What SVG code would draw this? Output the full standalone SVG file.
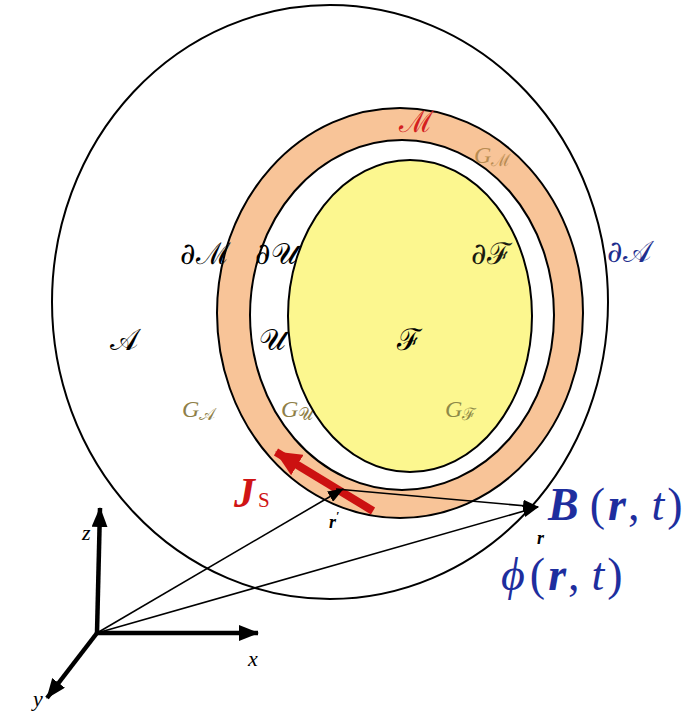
<svg xmlns="http://www.w3.org/2000/svg" width="687" height="717" viewBox="0 0 687 717">
<style>
.bd{stroke:#000;stroke-width:2}
.m{font-family:"DejaVu Serif","Liberation Serif",serif;font-style:normal}
.gi{font-family:"Liberation Serif","DejaVu Serif",serif;font-style:italic}
.s{font-family:"Liberation Serif","DejaVu Serif",serif}
.thin{stroke:#000;stroke-width:1.6;fill:none}
.axis{stroke:#000;stroke-width:4.5;fill:none}
.g{fill:#8f7f48}
</style>
<defs>
<marker id="ah" markerUnits="userSpaceOnUse" markerWidth="16" markerHeight="12" refX="15" refY="6" orient="auto"><path d="M0,0 L16,6 L0,12 Z" fill="#000"/></marker>
<marker id="ax" markerUnits="userSpaceOnUse" markerWidth="20" markerHeight="16" refX="19" refY="8" orient="auto"><path d="M0,0 L20,8 L0,16 Z" fill="#000"/></marker>
<marker id="ar" markerUnits="userSpaceOnUse" markerWidth="26" markerHeight="24" refX="25" refY="12" orient="auto"><path d="M0,0 L26,12 L0,24 Z" fill="#cc1111"/></marker>
</defs>
<rect width="687" height="717" fill="#fff"/>
<g id="region-A">
<ellipse cx="330" cy="302" rx="278" ry="297" fill="#fff" class="bd"/>
<text class="m" x="110" y="350" font-size="30">𝒜</text>
<text class="m" x="607" y="262" font-size="30" fill="#1e2e8e">∂𝒜</text>
<text class="g" x="182" y="417"><tspan class="gi" font-size="24">G</tspan><tspan class="m" font-size="17" dy="3">𝒜</tspan></text>
</g>
<g id="region-M">
<ellipse cx="400" cy="313" rx="183" ry="205" fill="#f8c498" class="bd"/>
<text class="m" x="399" y="132" font-size="30" fill="#d42020">ℳ</text>
<text x="474" y="163" fill="#b98c52"><tspan class="gi" font-size="24">G</tspan><tspan class="m" font-size="17" dy="3">ℳ</tspan></text>
<text class="m" x="180" y="264" font-size="30">∂ℳ</text>
</g>
<g id="region-U">
<ellipse cx="402" cy="315" rx="152" ry="175" fill="#fff" class="bd"/>
<text class="m" x="255" y="264" font-size="30">∂𝒰</text>
<text class="m" x="259" y="350" font-size="30">𝒰</text>
<text class="g" x="281" y="417"><tspan class="gi" font-size="24">G</tspan><tspan class="m" font-size="17" dy="3">𝒰</tspan></text>
</g>
<g id="region-F">
<ellipse cx="410" cy="316" rx="122" ry="156" fill="#fcf78f" class="bd"/>
<text class="m" x="471" y="264" font-size="30" fill="#1a1a10">∂ℱ</text>
<text class="m" x="397" y="350" font-size="30">ℱ</text>
<text x="445" y="417" fill="#8e8a48"><tspan class="gi" font-size="24">G</tspan><tspan class="m" font-size="17" dy="3">ℱ</tspan></text>
</g>
<g id="connectors">
<line x1="373" y1="511" x2="276" y2="452" stroke="#cc1111" stroke-width="8" marker-end="url(#ar)"/>
<line class="thin" x1="97" y1="633" x2="343" y2="489" marker-end="url(#ah)"/>
<line class="thin" x1="97" y1="633" x2="538" y2="507" marker-end="url(#ah)"/>
<line class="thin" x1="336" y1="489" x2="538" y2="507" marker-end="url(#ah)"/>
<line class="axis" x1="97" y1="633" x2="100" y2="508" marker-end="url(#ax)"/>
<line class="axis" x1="97" y1="633" x2="258" y2="633" marker-end="url(#ax)"/>
<line class="axis" x1="97" y1="633" x2="47" y2="698" marker-end="url(#ax)"/>
</g>
<g id="label-Js">
<text class="s" x="234" y="507" font-size="42" font-weight="bold" font-style="italic" fill="#d01515">J<tspan font-size="21" font-weight="normal" font-style="normal" dx="3">S</tspan></text>
</g>
<g id="label-r">
<text class="s" x="329" y="528" font-size="18" font-weight="bold" font-style="italic">r<tspan font-size="12" dy="-8">′</tspan></text>
<text class="s" x="537" y="544" font-size="18" font-weight="bold" font-style="italic">r</text>
</g>
<g id="label-B">
<text class="s" x="548" y="520" font-size="46" fill="#1e2e9e"><tspan font-weight="bold" font-style="italic">B</tspan><tspan dx="11">(</tspan><tspan dx="3" font-weight="bold" font-style="italic">r</tspan><tspan dx="2">,</tspan><tspan dx="12" font-style="italic">t</tspan><tspan dx="3">)</tspan></text>
</g>
<g id="label-phi">
<text class="s" x="501" y="590" font-size="46" fill="#1e2e9e"><tspan font-style="italic">ϕ</tspan><tspan dx="5">(</tspan><tspan dx="3" font-weight="bold" font-style="italic">r</tspan><tspan dx="2">,</tspan><tspan dx="12" font-style="italic">t</tspan><tspan dx="3">)</tspan></text>
</g>
<g id="axis-labels">
<text class="s" x="82" y="540" font-size="22" font-style="italic">z</text>
<text class="s" x="248" y="666" font-size="22" font-style="italic">x</text>
<text class="s" x="33" y="706" font-size="22" font-style="italic">y</text>
</g>
</svg>
